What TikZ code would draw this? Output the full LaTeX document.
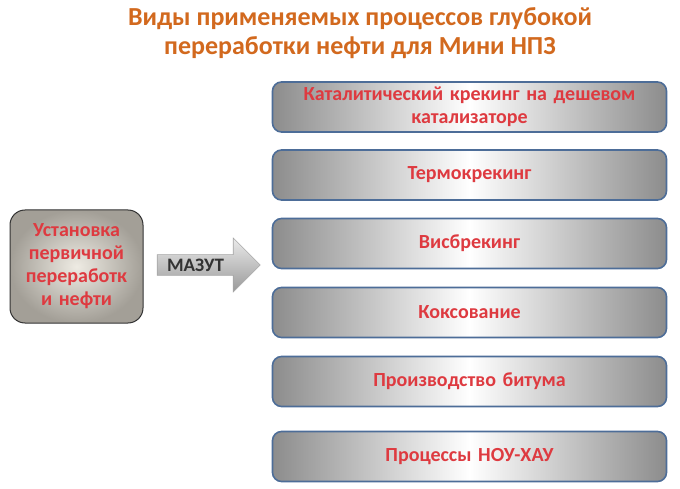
\documentclass[tikz,border=0pt]{standalone}
\usepackage{fontspec}
\setmainfont{Carlito}
\usetikzlibrary{shapes.arrows}
\definecolor{titleorange}{HTML}{D2691E}
\definecolor{procred}{HTML}{DE3A40}
\definecolor{procborder}{HTML}{4D6D98}
\definecolor{unitlight}{HTML}{EEEBE3}
\definecolor{unitdark}{HTML}{A39F97}
\tikzstyle{process}=[draw=procborder,line width=1.6pt,rounded corners=9pt,
  left color=black!45,right color=black!45,middle color=white,
  minimum width=394pt,minimum height=50pt,text width=380pt,align=center,
  font=\bfseries\fontsize{20}{23}\selectfont,text=procred]
\tikzstyle{unitbox}=[draw=black!80,line width=1pt,rounded corners=15pt,
  inner color=unitlight,outer color=unitdark,
  minimum width=133pt,minimum height=113pt,text width=125pt,align=center,
  font=\bfseries\fontsize{20}{23}\selectfont,text=procred]
\tikzstyle{flow}=[single arrow,draw=black!35,line width=0.6pt,
  top color=black!8,bottom color=black!40,
  minimum height=103pt,minimum width=54pt,single arrow head extend=10.5pt,
  single arrow head indent=0pt,inner sep=0pt,
  font=\bfseries\fontsize{19}{21}\selectfont,text=black!80]

\begin{document}
\begin{tikzpicture}[x=1pt,y=-1pt]
  \useasboundingbox (0,0) rectangle (680,489);
  \node[text=titleorange,align=center,font=\bfseries\fontsize{26}{29}\selectfont] (title) at (360,33)
    {Виды применяемых процессов глубокой\\переработки нефти для Мини НПЗ};
  \node[unitbox] (unit) at (76.5,266.5) {Установка первичной переработк и нефти};
  \node[flow] (mazut) at (203.5,265) {\hspace*{-16pt}МАЗУТ};
  \foreach \y/\lbl [count=\i] in {107/{Каталитический крекинг на дешевом\\катализаторе},
      175/Термокрекинг,243.5/Висбрекинг,312.5/Коксование,
      381.5/Производство битума,456.5/Процессы НОУ-ХАУ}{
    \node[process] (proc\i) at (469.5,\y) {\lbl};
  }
\end{tikzpicture}
\end{document}
